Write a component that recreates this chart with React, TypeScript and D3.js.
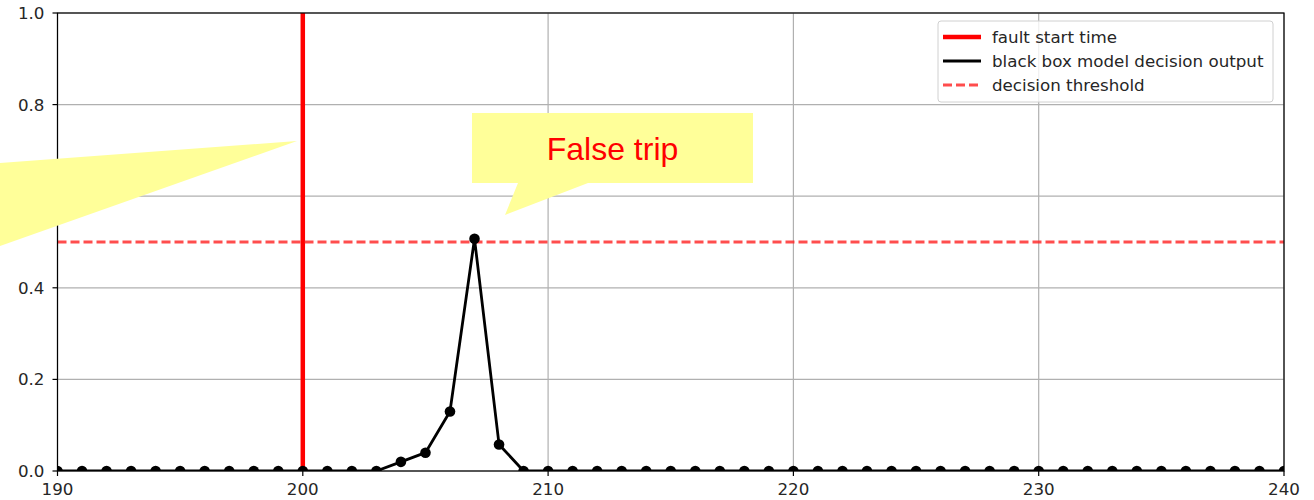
import React from "react";
import * as d3 from "d3";

const xValues = [190,191,192,193,194,195,196,197,198,199,200,201,202,203,204,205,206,207,208,209,210,211,212,213,214,215,216,217,218,219,220,221,222,223,224,225,226,227,228,229,230,231,232,233,234,235,236,237,238,239,240];
const decisionOutput = [0,0,0,0,0,0,0,0,0,0,0,0,0,0,0.02,0.04,0.13,0.507,0.058,0,0,0,0,0,0,0,0,0,0,0,0,0,0,0,0,0,0,0,0,0,0,0,0,0,0,0,0,0,0,0,0];
const xTicks = [190, 200, 210, 220, 230, 240];
const yTicks = [0, 0.2, 0.4, 0.6, 0.8, 1.0];
const faultStart = [200];
const threshold = [0.5];
const legendLabels = ["fault start time", "black box model decision output", "decision threshold"];
const calloutText = ["False trip"];

const W = 1314, H = 500;
const L = 57.5, R = 1284, T = 13, B = 471;
const FONT = "'DejaVu Sans', sans-serif";
const FS = 16.7;

export default function App() {
  const x = d3.scaleLinear().domain([190, 240]).range([L, R]);
  const y = d3.scaleLinear().domain([0, 1]).range([B, T]);
  const line = d3.line<number>().x((_, i) => x(xValues[i])).y((d) => y(d));
  const pts = decisionOutput.map((d, i) => [x(xValues[i]), y(d)]);

  const legendX = 938, legendY = 21;
  const rows = [37, 61, 85];

  return (
    <svg width={W} height={H} style={{ position: "absolute", left: 0, top: 0, background: "#fff" }}>
      <defs>
        <clipPath id="plot">
          <rect x={L} y={T} width={R - L} height={B - T} />
        </clipPath>
      </defs>
      <rect x={0} y={0} width={W} height={H} fill="#fff" />
      {xTicks.map((t) => (
        <line key={"gx" + t} x1={x(t)} x2={x(t)} y1={T} y2={B} stroke="#b0b0b0" strokeWidth={1.2} />
      ))}
      {yTicks.map((t) => (
        <line key={"gy" + t} x1={L} x2={R} y1={y(t)} y2={y(t)} stroke="#b0b0b0" strokeWidth={1.2} />
      ))}
      <g clipPath="url(#plot)">
        {faultStart.map((f) => (
          <line key={"f" + f} x1={x(f)} x2={x(f)} y1={T} y2={B} stroke="#ff0000" strokeWidth={4.5} />
        ))}
        {threshold.map((t) => (
          <line key={"t" + t} x1={L} x2={R} y1={y(t)} y2={y(t)} stroke="#ff2020" strokeOpacity={0.8} strokeWidth={3} strokeDasharray="9,4" />
        ))}
        <path d={line(decisionOutput) || ""} fill="none" stroke="#000" strokeWidth={2.8} strokeLinejoin="round" />
        {pts.map((p, i) => (
          <circle key={"p" + i} cx={p[0]} cy={p[1]} r={5.3} fill="#000" />
        ))}
      </g>
      <rect x={L} y={T} width={R - L} height={B - T} fill="none" stroke="#000" strokeWidth={1.2} />
      {xTicks.map((t) => (
        <g key={"xt" + t}>
          <line x1={x(t)} x2={x(t)} y1={B} y2={B + 5} stroke="#000" strokeWidth={1.2} />
          <text x={x(t)} y={B + 24} textAnchor="middle" fontFamily={FONT} fontSize={FS} fill="#262626">{t}</text>
        </g>
      ))}
      {yTicks.map((t) => (
        <g key={"yt" + t}>
          <line x1={L - 5} x2={L} y1={y(t)} y2={y(t)} stroke="#000" strokeWidth={1.2} />
          <text x={L - 13} y={y(t)} dy="0.36em" textAnchor="end" fontFamily={FONT} fontSize={FS} fill="#262626">{t.toFixed(1)}</text>
        </g>
      ))}
      <rect x={legendX} y={legendY} width={335} height={81} rx={3} fill="#fff" fillOpacity={0.8} stroke="#d0d0d0" strokeWidth={1} />
      <line x1={943} x2={981} y1={rows[0]} y2={rows[0]} stroke="#ff0000" strokeWidth={4.5} />
      <line x1={943} x2={981} y1={rows[1]} y2={rows[1]} stroke="#000" strokeWidth={2.8} />
      <line x1={943} x2={981} y1={rows[2]} y2={rows[2]} stroke="#ff2020" strokeOpacity={0.8} strokeWidth={2.8} strokeDasharray="9,4" />
      {legendLabels.map((lab, i) => (
        <text key={lab} x={992} y={rows[i]} dy="0.36em" fontFamily={FONT} fontSize={FS} fill="#262626">{lab}</text>
      ))}
      <polygon points="0,163 297,141 0,246" fill="#ffff99" />
      <polygon points="472,113 753,113 753,183 588,183 505,215 518,183 472,183" fill="#ffff99" />
      <text x={612.5} y={160} textAnchor="middle" fontFamily="'Liberation Sans', Arial, sans-serif" fontSize={32} fill="#ff0000">{calloutText[0]}</text>
    </svg>
  );
}
